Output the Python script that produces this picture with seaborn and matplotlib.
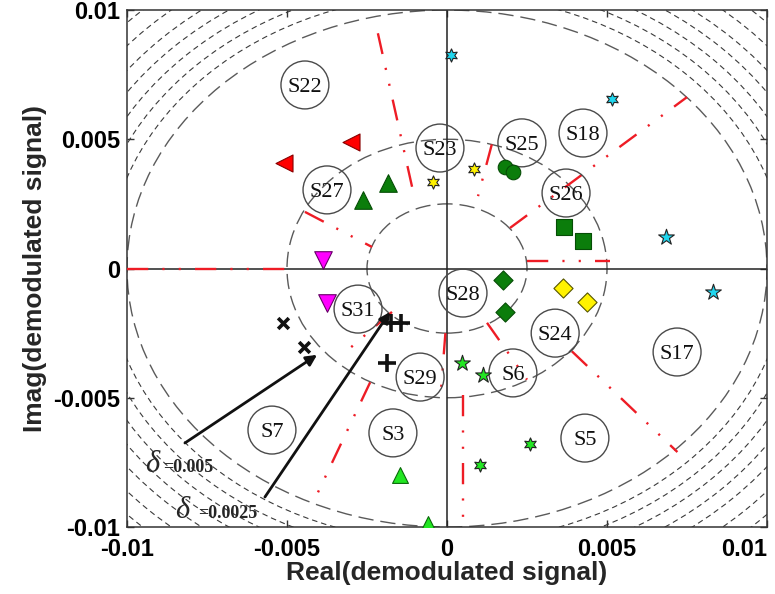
import numpy as np
import pandas as pd
import seaborn as sns
import matplotlib.pyplot as plt
from matplotlib.patches import Circle

sns.set_theme(style='white')
plt.rcParams['font.family'] = ['Liberation Sans', 'DejaVu Sans']

############ data ############
ring_radii = [0.0025, 0.005, 0.01]
hatch_radii = [0.0106, 0.0111, 0.0116, 0.0121, 0.0126, 0.0132, 0.0138]

# red boundary segments (start -> end)
seg_x0 = [-0.01, -0.00444, -0.00216, 0.0014, 0.00197, 0.0025, 0.00125, 0.0039, -0.00172, -0.0024, -0.00005, 0.0005]
seg_y0 = [0.0, 0.00219, 0.0091, 0.0048, 0.00157, 0.0003, -0.0021, -0.0032, -0.00168, -0.0044, -0.0025, -0.0049]
seg_x1 = [-0.005, -0.00234, -0.001, 0.00097, 0.0075, 0.0051, 0.0025, 0.0072, -0.00305, -0.00422, -0.0002, 0.0005]
seg_y1 = [0.0, 0.00083, 0.00265, 0.0028, 0.00663, 0.0003, -0.0043, -0.0071, -0.0031, -0.00915, -0.0049, -0.01]

region_names = ['S22', 'S23', 'S25', 'S18', 'S27', 'S26', 'S31', 'S28', 'S24', 'S17', 'S29', 'S6', 'S7', 'S3', 'S5']
region_x = [-0.00444, -0.00022, 0.00234, 0.00425, -0.00375, 0.00372, -0.00278, 0.0005, 0.00338, 0.00719, -0.00084, 0.00206, -0.00547, -0.00169, 0.00431]
region_y = [0.0071, 0.00466, 0.00486, 0.00524, 0.00304, 0.00292, -0.00157, -0.00095, -0.0025, -0.00323, -0.0042, -0.00404, -0.00625, -0.00636, -0.00656]

cyan_hex_x = [0.000125, 0.00516]
cyan_hex_y = [0.00826, 0.00656]
cyan_star_x = [0.00684, 0.0083]
cyan_star_y = [0.00122, -0.00091]
yellow_hex_x = [-0.00044, 0.00084]
yellow_hex_y = [0.00335, 0.00385]
dgreen_circle_x = [0.00181, 0.00206]
dgreen_circle_y = [0.00393, 0.00373]
dgreen_square_x = [0.00366, 0.00425]
dgreen_square_y = [0.0016, 0.00107]
dgreen_tri_x = [-0.00184, -0.00262]
dgreen_tri_y = [0.0033, 0.00265]
red_tri_x = [-0.003, -0.0051]
red_tri_y = [0.0049, 0.0041]
magenta_tri_x = [-0.00388, -0.00375]
magenta_tri_y = [0.00033, -0.00134]
black_x_x = [-0.00513, -0.00447]
black_x_y = [-0.0021, -0.00305]
black_plus_x = [-0.00175, -0.00145, -0.00188]
black_plus_y = [-0.0021, -0.0021, -0.00366]
dgreen_diamond_x = [0.00175, 0.00181]
dgreen_diamond_y = [-0.00045, -0.0017]
yellow_diamond_x = [0.00363, 0.00437]
yellow_diamond_y = [-0.00076, -0.0013]
lgreen_star_x = [0.00047, 0.00113]
lgreen_star_y = [-0.00366, -0.00412]
lgreen_hex_x = [0.0026, 0.00103]
lgreen_hex_y = [-0.0068, -0.0076]
lgreen_tri_x = [-0.00147, -0.0006]
lgreen_tri_y = [-0.008, -0.0099]

arrow_tail = [(-0.00819, -0.00675), (-0.00569, -0.00884)]
arrow_tip = [(-0.00406, -0.00334), (-0.00178, -0.00168)]
delta_values = ['=0.005', '=0.0025']
delta_x = [-0.00944, -0.0085]
delta_y = [-0.00787, -0.00965]
delta_value_x = [-0.00888, -0.00778]

ticks = [-0.01, -0.005, 0, 0.005, 0.01]
tick_labels = ['-0.01', '-0.005', '0', '0.005', '0.01']

############ figure ############
fig = plt.figure(figsize=(7.75, 5.94), dpi=100)
ax = fig.add_axes([127 / 775, 1 - 527 / 594, 640 / 775, 517 / 594])
ax.set_facecolor('white')

# corner hatching arcs and the rings
for r in hatch_radii:
    ax.add_patch(Circle((0, 0), r, fill=False, ec='#3a3a3a', lw=0.8, ls=(0, (5, 3.5)), zorder=1))
for r in ring_radii:
    ax.add_patch(Circle((0, 0), r, fill=False, ec='#5a5a5a', lw=1.0, ls=(0, (11, 5)), zorder=1))

ax.axhline(0, color='#222222', lw=1.1, zorder=2)
ax.axvline(0, color='#222222', lw=1.1, zorder=2)

# red decision boundaries
for i in range(len(seg_x0)):
    ax.plot([seg_x0[i], seg_x1[i]], [seg_y0[i], seg_y1[i]], color='#ee1c25', lw=1.7,
            ls=(0, (9, 6, 0.9, 6, 0.9, 6)), solid_capstyle='butt', dash_capstyle='butt', zorder=3)

# region labels
ax.scatter(region_x, region_y, s=1190, facecolors='none', edgecolors='#4a4a4a', linewidths=1, zorder=4)
for name, x, y in zip(region_names, region_x, region_y):
    ax.text(x, y, name, ha='center', va='center_baseline', fontsize=16,
            family='Liberation Serif', color='#111111', zorder=4)

# constellation points
def pts(xs, ys, marker, color, size, lw=0.8, ec='#222222'):
    df = pd.DataFrame({'x': xs, 'y': ys})
    sns.scatterplot(data=df, x='x', y='y', marker=marker, color=color, s=size,
                    edgecolor=ec, linewidth=lw, ax=ax, zorder=5, legend=False)

pts(cyan_hex_x, cyan_hex_y, (6, 1, 0), '#1fd6ee', 90)
pts(cyan_star_x, cyan_star_y, '*', '#1fd6ee', 140)
pts(yellow_hex_x, yellow_hex_y, (6, 1, 0), '#fff200', 90)
pts(dgreen_circle_x, dgreen_circle_y, 'o', '#0b7d0b', 110, ec='#064d06')
pts(dgreen_square_x, dgreen_square_y, 's', '#0b7d0b', 130, ec='#064d06')
pts(dgreen_tri_x, dgreen_tri_y, '^', '#0b7d0b', 160, ec='#064d06')
pts(red_tri_x, red_tri_y, '<', '#ff0000', 150, ec='#880000')
pts(magenta_tri_x, magenta_tri_y, 'v', '#ff00ff', 160, ec='#660066')
pts(dgreen_diamond_x, dgreen_diamond_y, 'D', '#0b7d0b', 95, ec='#064d06')
pts(yellow_diamond_x, yellow_diamond_y, 'D', '#fff200', 95, ec='#555500')
pts(lgreen_star_x, lgreen_star_y, '*', '#22e622', 140)
pts(lgreen_hex_x, lgreen_hex_y, (6, 1, 0), '#22e622', 90)
pts(lgreen_tri_x, lgreen_tri_y, '^', '#22e622', 130, ec='#0a6a0a')
pts(black_x_x, black_x_y, 'x', '#111111', 60, lw=2.6, ec=None)
pts(black_plus_x, black_plus_y, '+', '#111111', 150, lw=2.6, ec=None)

# delta annotations
for (tx, ty), (hx, hy) in zip(arrow_tail, arrow_tip):
    ax.annotate('', xy=(hx, hy), xytext=(tx, ty),
                arrowprops=dict(arrowstyle='-|>', color='#111111', lw=2, mutation_scale=16,
                                shrinkA=0, shrinkB=0), zorder=6)
for val, x, y, vx in zip(delta_values, delta_x, delta_y, delta_value_x):
    ax.text(x, y, 'δ', fontsize=22, family='Liberation Serif', style='italic', va='baseline', zorder=6)
    ax.text(vx, y, val, fontsize=13, family='Liberation Serif', fontweight='bold',
            va='baseline', zorder=6)

ax.set_xlim(-0.01, 0.01)
ax.set_ylim(-0.01, 0.01)
ax.set_xticks(ticks)
ax.set_yticks(ticks)
ax.set_xticklabels(tick_labels, fontweight='bold')
ax.set_yticklabels(tick_labels, fontweight='bold')
ax.get_xticklabels()[-1].set_horizontalalignment('right')
ax.tick_params(direction='in', top=True, right=True, length=5, width=1, colors='#333333',
               labelcolor='black', labelsize=17, pad=5, bottom=True, left=True)
ax.tick_params(axis='x', pad=8)
for s in ax.spines.values():
    s.set_color('#333333')
    s.set_linewidth(1.1)
ax.set_xlabel('Real(demodulated signal)', fontsize=19, fontweight='bold', labelpad=0)
ax.set_ylabel('Imag(demodulated signal)', fontsize=19, fontweight='bold', labelpad=4)

plt.savefig('out.png', dpi=100)
